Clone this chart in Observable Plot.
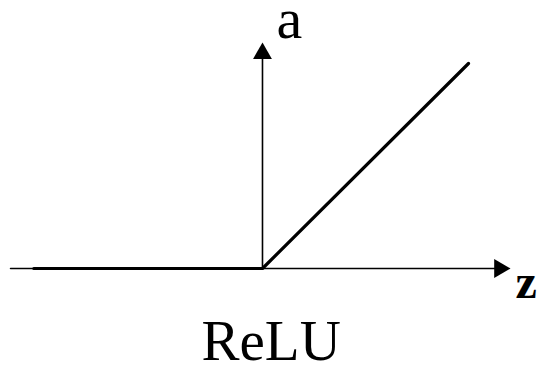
<!DOCTYPE html>
<html>
<head>
<meta charset="utf-8">
<script src="https://cdn.jsdelivr.net/npm/d3@7"></script>
<script src="https://cdn.jsdelivr.net/npm/@observablehq/plot@0.6"></script>
<style>
  html, body { margin: 0; padding: 0; background: #fff; }
  #chart svg { display: block; }
</style>
</head>
<body>
<div id="chart"></div>
<script>
// ReLU function samples (z, a)
const reluZ = [-1.11, 0, 1.0];
const reluA = [0, 0, 1.0];

// Axis extents (data units)
const zAxisZ = [-1.223, 1.17];
const zAxisA = [0, 0];
const aAxisZ = [0, 0];
const aAxisA = [0, 1.03];

// Arrow tips
const arrowZ = [1.204, 0];
const arrowA = [0, 1.102];
const arrowRot = [90, 0];

// Labels
const labelText = ["a", "z", "ReLU"];
const labelZ = [0.068, 1.228, -0.296];
const labelA = [1.122, -0.1415, -0.444];

const relu = reluZ.map((z, i) => ({z, a: reluA[i]}));
const hAxis = zAxisZ.map((z, i) => ({z, a: zAxisA[i]}));
const vAxis = aAxisZ.map((z, i) => ({z, a: aAxisA[i]}));

const r = 7;
const tipOff = 2 * Math.sqrt(Math.PI * r * r / (3 * Math.sqrt(3)));

const chart = Plot.plot({
  width: 537,
  height: 365,
  margin: 0,
  style: {background: "#fff", overflow: "visible"},
  x: {domain: [-1.2718, 1.3350], range: [0, 537], axis: null},
  y: {domain: [-0.4732, 1.3073], range: [365, 0], axis: null},
  marks: [
    Plot.line(hAxis, {x: "z", y: "a", stroke: "#000", strokeWidth: 1.6}),
    Plot.line(vAxis, {x: "z", y: "a", stroke: "#000", strokeWidth: 1.6}),
    Plot.dot([0], {x: () => arrowZ[0], y: () => arrowA[0], symbol: "triangle", r, fill: "#000", stroke: "none", rotate: arrowRot[0], dx: -tipOff}),
    Plot.dot([1], {x: () => arrowZ[1], y: () => arrowA[1], symbol: "triangle", r, fill: "#000", stroke: "none", rotate: arrowRot[1], dy: tipOff}),
    Plot.line(relu, {x: "z", y: "a", stroke: "#000", strokeWidth: 3.2, strokeLinecap: "round", strokeLinejoin: "miter"}),
    Plot.text([0], {x: () => labelZ[0], y: () => labelA[0], text: () => labelText[0], textAnchor: "start", lineAnchor: "bottom", fontFamily: "Liberation Serif", fontSize: 58, fill: "#000"}),
    Plot.text([1], {x: () => labelZ[1], y: () => labelA[1], text: () => labelText[1], textAnchor: "start", lineAnchor: "bottom", fontFamily: "Liberation Serif", fontSize: 48, fontWeight: "bold", fill: "#000"}),
    Plot.text([2], {x: () => labelZ[2], y: () => labelA[2], text: () => labelText[2], textAnchor: "start", lineAnchor: "bottom", fontFamily: "Liberation Serif", fontSize: 57, fill: "#000", letterSpacing: "1px"})
  ]
});
document.getElementById("chart").appendChild(chart);
</script>
</body>
</html>
